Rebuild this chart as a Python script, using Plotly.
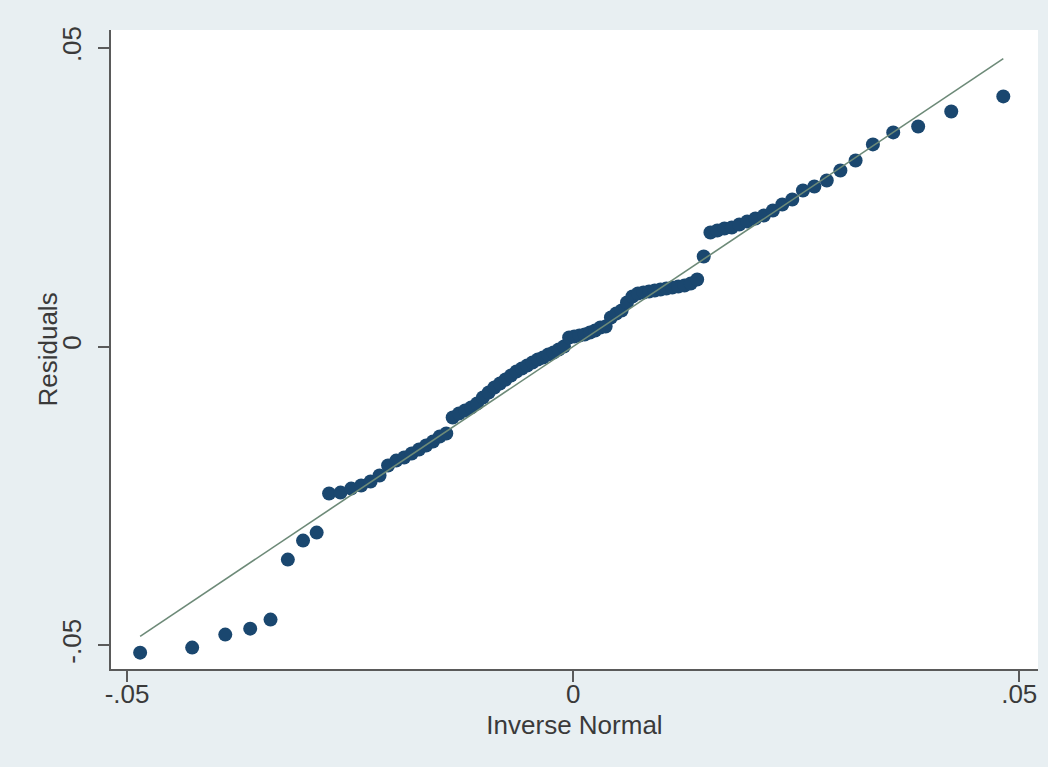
from statistics import NormalDist, mean, stdev

import plotly.graph_objects as go

# Sorted regression residuals (n = 90)
residuals = [
    -0.05126, -0.05042, -0.04824, -0.04724, -0.04573, -0.03568, -0.03250, -0.03116,
    -0.02462, -0.02446, -0.02379, -0.02328, -0.02261, -0.02161, -0.01993, -0.01910,
    -0.01859, -0.01792, -0.01725, -0.01658, -0.01591, -0.01508, -0.01457, -0.01189,
    -0.01122, -0.01072, -0.01022, -0.00955, -0.00854, -0.00771, -0.00687, -0.00620,
    -0.00553, -0.00486, -0.00419, -0.00369, -0.00318, -0.00268, -0.00218, -0.00184,
    -0.00134, -0.00101, -0.00050, 0.00000, 0.00151, 0.00168, 0.00184, 0.00201,
    0.00235, 0.00268, 0.00318, 0.00335, 0.00486, 0.00553, 0.00603, 0.00737,
    0.00838, 0.00888, 0.00905, 0.00921, 0.00938, 0.00955, 0.00972, 0.00988,
    0.01005, 0.01022, 0.01055, 0.01122, 0.01508, 0.01910, 0.01943, 0.01977,
    0.01993, 0.02044, 0.02094, 0.02144, 0.02194, 0.02278, 0.02379, 0.02462,
    0.02613, 0.02680, 0.02781, 0.02948, 0.03116, 0.03384, 0.03585, 0.03685,
    0.03936, 0.04188,
]

tick_values = [-0.05, 0, 0.05]
tick_labels = ["-.05", "0", ".05"]

# Normal quantile plot: expected quantiles from the residuals' mean and sd,
# plotting positions i/(n+1)
ys = sorted(residuals)
n = len(ys)
dist = NormalDist(mean(ys), stdev(ys))
xs = [dist.inv_cdf(i / (n + 1)) for i in range(1, n + 1)]

TEXT = "#3a3a3a"
AXIS = "#5a5a5a"
FONT = "Liberation Sans, Arial, sans-serif"

fig = go.Figure()
fig.add_trace(go.Scatter(
    x=xs, y=ys, mode="markers",
    marker=dict(color="#1a476f", size=14, line=dict(width=0)),
    showlegend=False,
))
# Reference line y = x over the range of the expected quantiles
fig.add_trace(go.Scatter(
    x=[xs[0], xs[-1]], y=[xs[0], xs[-1]], mode="lines",
    line=dict(color="#6d8a78", width=1.6),
    showlegend=False,
))

fig.update_layout(
    width=1048, height=767,
    margin=dict(l=111, r=10, t=30, b=98),
    paper_bgcolor="#e8eff2",
    plot_bgcolor="#ffffff",
    font=dict(family=FONT, size=26, color=TEXT),
    annotations=[dict(
        text="Residuals", textangle=-90,
        xref="paper", yref="paper", x=-0.069, y=0.5,
        xanchor="center", yanchor="middle", showarrow=False,
        font=dict(size=26, color=TEXT),
    )],
)
fig.update_xaxes(
    range=[-0.0518, 0.0521],
    tickvals=tick_values, ticktext=tick_labels,
    ticks="outside", ticklen=11, tickwidth=1.5, tickcolor=AXIS,
    ticklabelstandoff=-10,
    showline=True, linecolor=AXIS, linewidth=1.8,
    showgrid=False, zeroline=False,
    tickfont=dict(size=26, color=TEXT),
    title=dict(text="Inverse Normal", font=dict(size=26, color=TEXT), standoff=8),
)
fig.update_yaxes(
    range=[-0.0540, 0.0530],
    tickvals=tick_values, ticktext=tick_labels,
    tickangle=-90,
    ticks="outside", ticklen=11, tickwidth=1.5, tickcolor=AXIS,
    ticklabelstandoff=7,
    showline=True, linecolor=AXIS, linewidth=1.8,
    showgrid=False, zeroline=False,
    tickfont=dict(size=26, color=TEXT),
)

fig.write_html("out.html")
